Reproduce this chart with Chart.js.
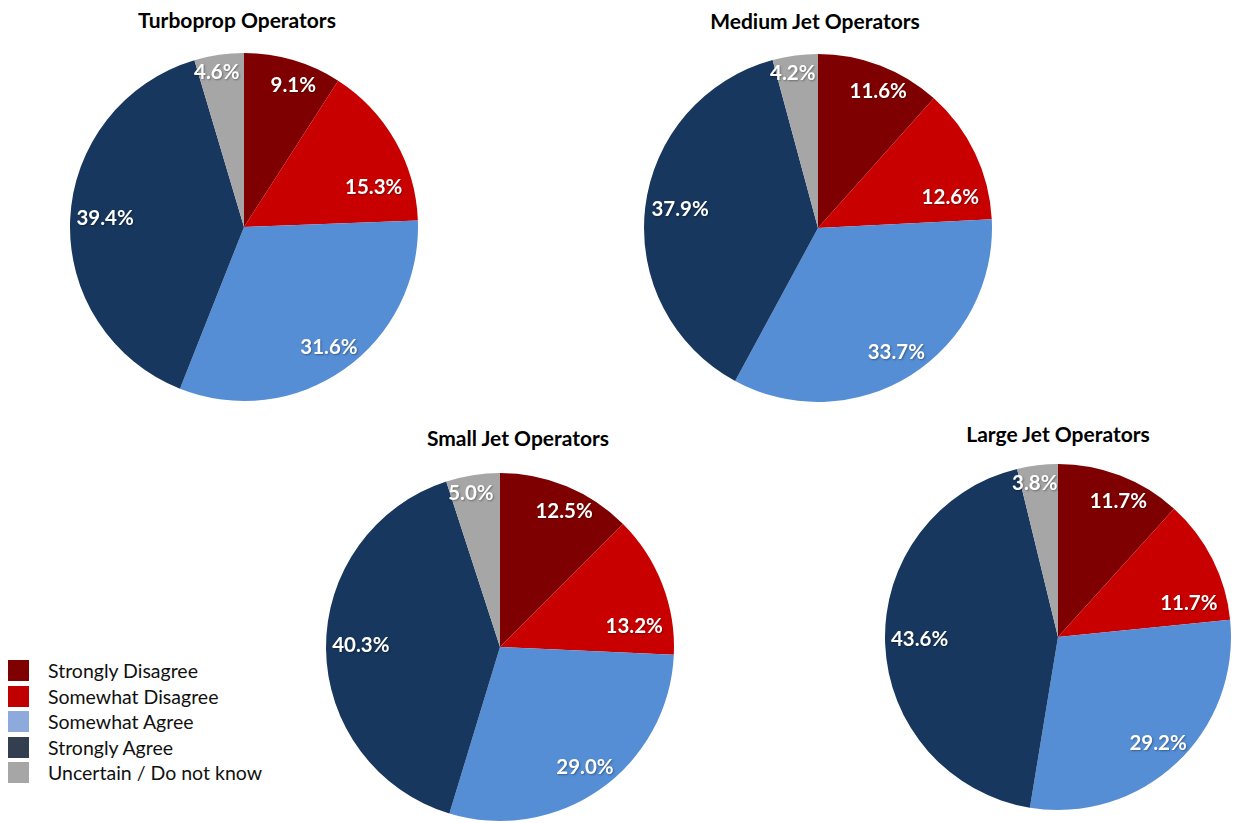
<!DOCTYPE html>
<html><head><meta charset="utf-8">
<script src="https://cdn.jsdelivr.net/npm/chart.js@4/dist/chart.umd.min.js"></script>
<style>
body{margin:0;background:#fff;width:1236px;height:823px;position:relative;overflow:hidden;font-family:Lato,"Open Sans",sans-serif;}
.t{position:absolute;font-weight:bold;font-size:21px;color:#000;transform:translateX(-50%);white-space:nowrap;}
canvas{position:absolute;}
#legend{position:absolute;left:8px;top:658px;}
.li{height:25.5px;display:flex;align-items:center;font-size:19.5px;color:#111;}
.sw{width:21px;height:21px;margin-right:19px;}
</style></head><body>
<div class="t" style="left:237px;top:7px">Turboprop Operators</div>
<div class="t" style="left:815px;top:8px">Medium Jet Operators</div>
<div class="t" style="left:518px;top:425px">Small Jet Operators</div>
<div class="t" style="left:1058px;top:421px">Large Jet Operators</div>
<canvas id="c0"></canvas><canvas id="c1"></canvas><canvas id="c2"></canvas><canvas id="c3"></canvas>
<div id="legend"></div>
<script>
const categories = ["Strongly Disagree","Somewhat Disagree","Somewhat Agree","Strongly Agree","Uncertain / Do not know"];
const turbopropValues = [9.1, 15.3, 31.6, 39.4, 4.6];
const mediumJetValues = [11.6, 12.6, 33.7, 37.9, 4.2];
const smallJetValues = [12.5, 13.2, 29.0, 40.3, 5.0];
const largeJetValues = [11.7, 11.7, 29.2, 43.6, 3.8];
const sliceColors = ["#7F0000","#C80000","#558ED5","#17375E","#A6A6A6"];
const legendColors = ["#7F0000","#C00000","#8EA9DB","#333F50","#A6A6A6"];
// label placement per category: fraction of radius, angular shift (rad)
const labelPlacement = [{f:0.86,da:0.05},{f:0.78,da:0.22},{f:0.845,da:0},{f:0.8,da:0.02},{f:0.9,da:-0.03}];

const pies = [
  {id:"c0", data:turbopropValues, cx:244, cy:227, r:174},
  {id:"c1", data:mediumJetValues, cx:818, cy:228, r:174},
  {id:"c2", data:smallJetValues, cx:500, cy:647, r:174},
  {id:"c3", data:largeJetValues, cx:1058, cy:637, r:173}
];

const labelPlugin = {
  id:"sliceLabels",
  afterDatasetsDraw(chart){
    const ctx = chart.ctx;
    const meta = chart.getDatasetMeta(0);
    const vals = chart.data.datasets[0].data;
    ctx.save();
    ctx.font = "bold 20.5px Lato";
    ctx.fillStyle = "#fff";
    ctx.textAlign = "center";
    ctx.textBaseline = "middle";
    ctx.shadowColor = "rgba(0,0,0,0.35)";
    ctx.shadowBlur = 2;
    ctx.shadowOffsetX = 1;
    ctx.shadowOffsetY = 1;
    meta.data.forEach((arc,i)=>{
      const p = arc.getProps(["x","y","startAngle","endAngle","outerRadius"],true);
      const lp = labelPlacement[i];
      const a = (p.startAngle+p.endAngle)/2 + lp.da;
      const x = p.x + Math.cos(a)*p.outerRadius*lp.f;
      const y = p.y + Math.sin(a)*p.outerRadius*lp.f;
      ctx.fillText(vals[i].toFixed(1)+"%", x, y);
    });
    ctx.restore();
  }
};

pies.forEach(p=>{
  const c = document.getElementById(p.id);
  const s = 2*p.r+4;
  c.width = s; c.height = s;
  c.style.left = (p.cx - s/2)+"px";
  c.style.top = (p.cy - s/2)+"px";
  new Chart(c, {
    type:"pie",
    data:{labels:categories, datasets:[{data:p.data, backgroundColor:sliceColors, borderWidth:0}]},
    options:{
      responsive:false, animation:false, radius:p.r,
      layout:{padding:0},
      plugins:{legend:{display:false}, tooltip:{enabled:false}}
    },
    plugins:[labelPlugin]
  });
});

const lg = document.getElementById("legend");
categories.forEach((c,i)=>{
  const d = document.createElement("div"); d.className="li";
  const sw = document.createElement("div"); sw.className="sw"; sw.style.background=legendColors[i];
  const t = document.createElement("span"); t.textContent=c;
  d.appendChild(sw); d.appendChild(t); lg.appendChild(d);
});
</script>
</body></html>
